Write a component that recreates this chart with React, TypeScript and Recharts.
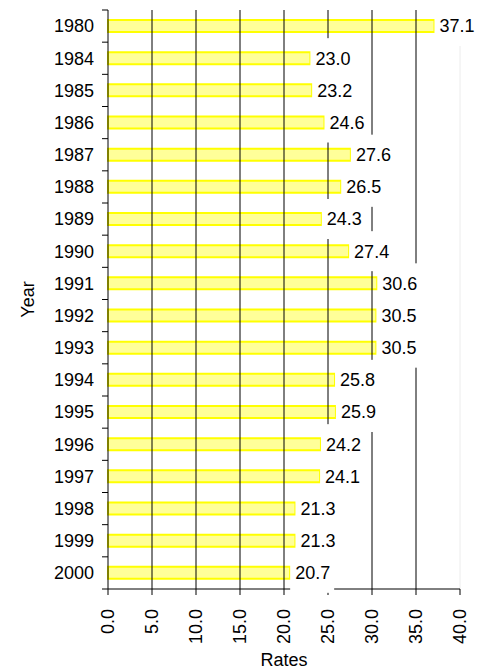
import React from "react";
import {
  BarChart,
  Bar,
  XAxis,
  YAxis,
  ReferenceLine,
  LabelList,
} from "recharts";

const years = [
  "1980", "1984", "1985", "1986", "1987", "1988", "1989", "1990", "1991",
  "1992", "1993", "1994", "1995", "1996", "1997", "1998", "1999", "2000",
];
const rates = [
  37.1, 23.0, 23.2, 24.6, 27.6, 26.5, 24.3, 27.4, 30.6, 30.5, 30.5, 25.8, 25.9,
  24.2, 24.1, 21.3, 21.3, 20.7,
];
const rateTicks = [0, 5, 10, 15, 20, 25, 30, 35, 40];
const gridTicks = [5, 10, 15, 20, 25, 30, 35];

const data = years.map((year, i) => ({ year, rate: rates[i] }));

const W = 487;
const H = 669;
const TOP = 10;
const XAXIS_H = 80;
const BAND = (H - TOP - XAXIS_H) / years.length;
const FONT = "'Liberation Sans', Arial, sans-serif";

const YearTick = (props: any) => {
  const { x, y, payload, index } = props;
  const axisX = x + 14;
  const last = index === years.length - 1;
  return (
    <g>
      <line x1={axisX - 6} x2={axisX} y1={y - BAND / 2} y2={y - BAND / 2} stroke="#000" />
      {last && (
        <line x1={axisX - 6} x2={axisX} y1={y + BAND / 2} y2={y + BAND / 2} stroke="#000" />
      )}
      <text x={x} y={y} dy="0.35em" textAnchor="end" fontSize={18} fontFamily={FONT} fill="#000">
        {payload.value}
      </text>
    </g>
  );
};

const RateTick = (props: any) => {
  const { x, y, payload } = props;
  const ty = y + 12;
  return (
    <text
      x={x}
      y={ty}
      dy="0.36em"
      textAnchor="end"
      transform={`rotate(-90, ${x}, ${ty})`}
      fontSize={18}
      fontFamily={FONT}
      fill="#000"
    >
      {Number(payload.value).toFixed(1)}
    </text>
  );
};

const ValueLabel = (props: any) => {
  const { x, y, width, height, value } = props;
  const lx = x + width + 5;
  const cy = y + height / 2;
  const txt = Number(value).toFixed(1);
  return (
    <g>
      <rect x={lx - 5} y={cy - 20} width={44} height={40} fill="#fff" />
      <text x={lx} y={cy} dy="0.36em" fontSize={18} fontFamily={FONT} fill="#000">
        {txt}
      </text>
    </g>
  );
};

export default function App() {
  return (
    <div style={{ position: "absolute", left: 0, top: 0, background: "#fff" }}>
      <BarChart
        width={W}
        height={H}
        data={data}
        layout="vertical"
        margin={{ top: TOP, right: 27, bottom: 0, left: 0 }}
      >
        {gridTicks.map((t) => (
          <ReferenceLine key={t} x={t} stroke="#000" strokeWidth={1} />
        ))}
        <ReferenceLine x={40} stroke="#ececec" strokeWidth={1} />
        <XAxis
          type="number"
          dataKey="rate"
          domain={[0, 40]}
          ticks={rateTicks}
          interval={0}
          height={XAXIS_H}
          tickSize={6}
          stroke="#000"
          tick={<RateTick />}
          label={{
            value: "Rates",
            position: "insideBottom",
            offset: 3,
            fontSize: 18,
            fontFamily: FONT,
            fill: "#000",
          }}
        />
        <YAxis
          type="category"
          dataKey="year"
          width={108}
          tickSize={6}
          tickMargin={8}
          tickLine={false}
          stroke="#000"
          interval={0}
          tick={<YearTick />}
          label={({ viewBox }: any) => (
            <text
              x={34}
              y={viewBox.y + viewBox.height / 2}
              transform={`rotate(-90, 34, ${viewBox.y + viewBox.height / 2})`}
              textAnchor="middle"
              fontSize={18}
              fontFamily={FONT}
              fill="#000"
            >
              Year
            </text>
          )}
        />
        <Bar
          dataKey="rate"
          barSize={12}
          fill="#ffff99"
          stroke="#ffff00"
          strokeWidth={2}
          isAnimationActive={false}
        >
          <LabelList dataKey="rate" content={<ValueLabel />} />
        </Bar>
      </BarChart>
    </div>
  );
}
